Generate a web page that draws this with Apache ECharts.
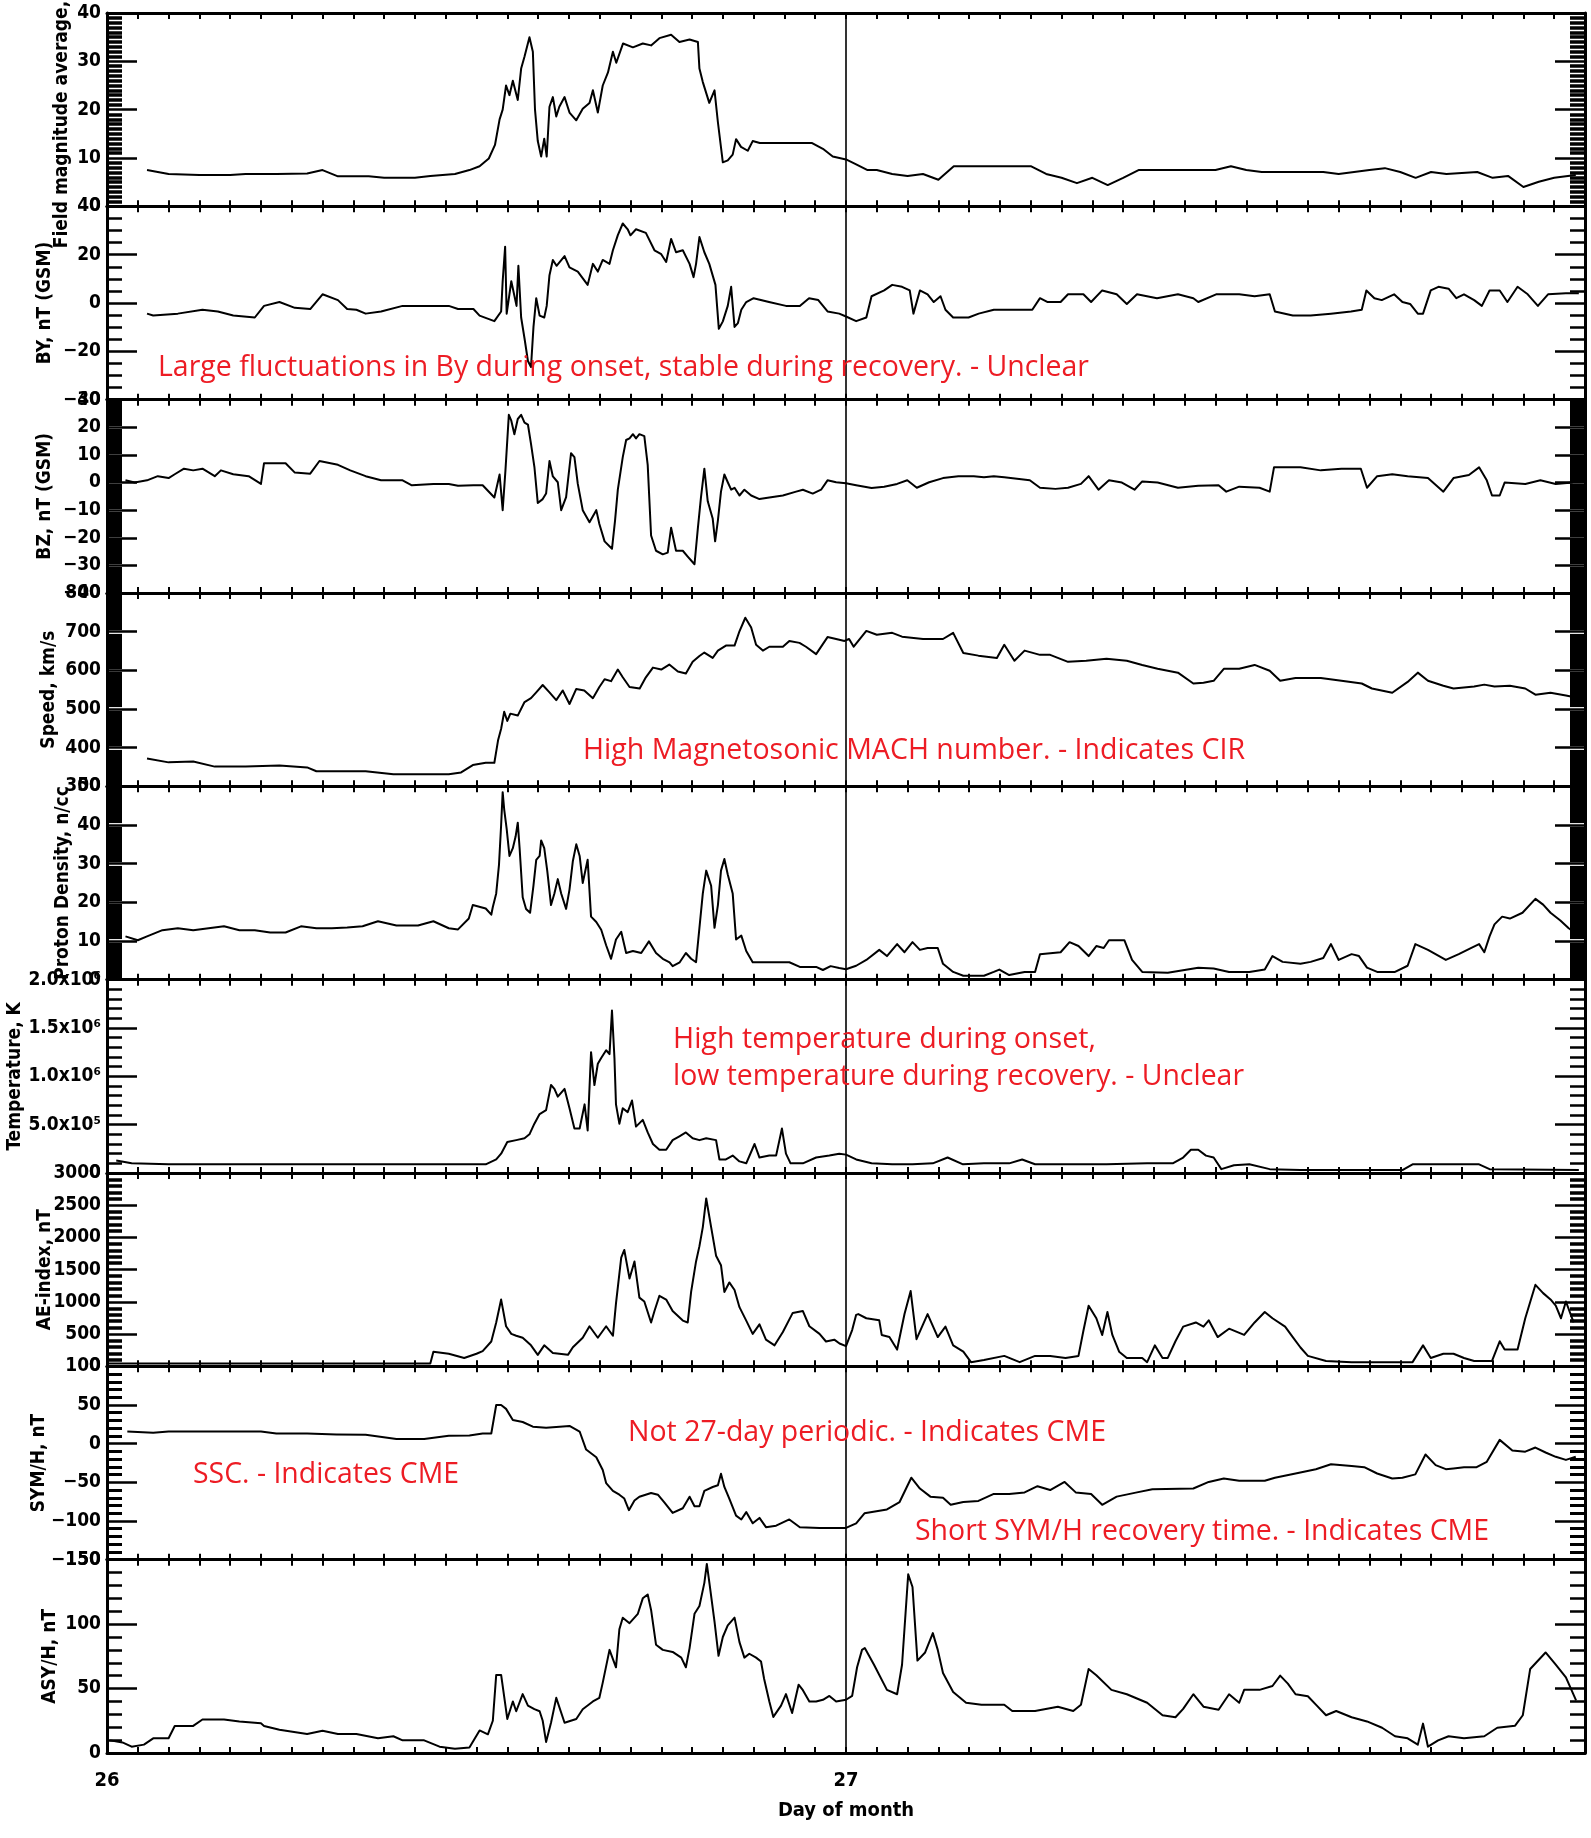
<!DOCTYPE html>
<html>
<head>
<meta charset="utf-8">
<script src="https://cdn.jsdelivr.net/npm/echarts@6/dist/echarts.min.js"></script>
<style>
html,body{margin:0;padding:0;background:#fff;}
#chart{width:1591px;height:1838px;}
</style>
</head>
<body>
<div id="chart"></div>
<script>
// ---- Data: [hour since start of day 26, value] ----
const fieldMagnitude = [[1.3,7.5],[2.0,6.7],[3.0,6.5],[4.0,6.5],[4.5,6.7],[5.5,6.7],[6.5,6.8],[7.0,7.5],[7.5,6.2],[8.5,6.2],[9.0,5.9],[10.0,5.9],[10.5,6.3],[11.3,6.7],[11.77,7.5],[12.1,8.3],[12.4,9.9],[12.6,12.7],[12.75,18],[12.85,20],[12.96,25],[13.07,23],[13.18,26],[13.34,22],[13.45,28.5],[13.56,31],[13.72,35],[13.83,32],[13.9,20],[13.99,13.5],[14.1,10.3],[14.2,14],[14.28,10.3],[14.37,20.6],[14.48,22.6],[14.59,18.6],[14.69,20.6],[14.86,22.6],[15.02,19.4],[15.24,17.8],[15.45,20.2],[15.67,21.4],[15.78,24],[15.94,19.4],[16.1,25],[16.27,27.7],[16.43,32],[16.54,29.7],[16.76,33.7],[17.08,32.9],[17.4,33.7],[17.67,33.3],[17.94,34.8],[18.32,35.5],[18.59,34],[18.92,34.5],[19.19,34],[19.24,28.5],[19.35,25.7],[19.56,21.4],[19.73,24],[19.84,17.4],[20.0,9.1],[20.16,9.5],[20.32,10.7],[20.43,13.9],[20.59,12.3],[20.81,11.5],[20.97,13.5],[21.2,13.1],[22.9,13.1],[23.25,11.9],[23.57,10.3],[24.0,9.7],[24.33,8.7],[24.7,7.5],[25.0,7.5],[25.5,6.7],[26.0,6.3],[26.5,6.7],[27.0,5.5],[27.5,8.3],[29.5,8.3],[30.0,8.3],[30.5,6.7],[31.0,5.9],[31.5,4.8],[32.0,5.9],[32.5,4.4],[33.0,5.9],[33.5,7.5],[36.0,7.5],[36.5,8.3],[37.0,7.5],[37.5,7.1],[39.5,7.1],[40.0,6.7],[40.5,7.1],[41.0,7.5],[41.5,7.9],[42.0,7.1],[42.5,5.9],[43.0,7.1],[43.5,6.7],[44.5,7.1],[45.0,5.9],[45.5,6.3],[46.0,4.0],[46.5,5.1],[47.0,5.9],[47.7,6.5]];

const byGsm = [[1.3,-4.4],[1.5,-5.2],[2.3,-4.4],[3.1,-2.8],[3.6,-3.5],[4.1,-5.2],[4.8,-6],[5.1,-1.2],[5.6,0.4],[6.1,-2],[6.6,-2.5],[7.0,3.6],[7.5,1.2],[7.8,-2.5],[8.1,-2.8],[8.4,-4.4],[8.9,-3.5],[9.6,-1.2],[11.1,-1.2],[11.4,-2.5],[11.9,-2.5],[12.1,-5.2],[12.58,-7.5],[12.8,-3.5],[12.85,9],[12.93,23.3],[12.98,-4.4],[13.13,9],[13.3,-1.2],[13.36,15.4],[13.45,-6],[13.56,-14.7],[13.67,-24],[13.77,-26.5],[13.85,-10],[13.94,2],[14.05,-5.2],[14.2,-6],[14.28,-1.2],[14.37,11.5],[14.48,17.8],[14.6,15.4],[14.86,19.4],[15.02,14.7],[15.29,13],[15.61,7.5],[15.78,16.2],[15.94,13],[16.1,17.8],[16.32,16.2],[16.43,21.8],[16.59,28.1],[16.75,32.9],[16.91,30.5],[17.0,28],[17.18,30.5],[17.5,29],[17.78,21.8],[18.0,20.2],[18.16,17],[18.32,26.5],[18.48,21],[18.7,21.8],[18.92,16.2],[19.05,10.7],[19.13,16.2],[19.24,27.3],[19.4,21],[19.56,16.2],[19.76,7.5],[19.87,-10.7],[20.0,-7.6],[20.16,-1.2],[20.27,6.7],[20.38,-9.9],[20.49,-8.3],[20.6,-2.8],[20.76,0.4],[21.0,2],[21.5,0.4],[22.05,-1.2],[22.5,-1.2],[22.8,2],[23.1,1.2],[23.4,-3.5],[23.78,-4.4],[24.0,-5.6],[24.33,-7.5],[24.66,-6],[24.83,2.8],[25.24,5.2],[25.5,7.5],[25.82,6.7],[26.07,5.2],[26.19,-4.4],[26.4,5.2],[26.65,3.6],[26.85,0.4],[27.07,2.8],[27.23,-2.8],[27.48,-6],[27.98,-6],[28.31,-4.4],[28.8,-2.8],[30.05,-2.8],[30.3,2],[30.55,0.4],[30.97,0.4],[31.21,3.6],[31.71,3.6],[31.96,0.4],[32.32,5.2],[32.79,3.6],[33.12,-0.4],[33.45,3.6],[34.1,2],[34.78,3.6],[35.28,2],[35.44,0.4],[36.02,3.6],[36.77,3.6],[37.27,2.8],[37.76,3.6],[37.93,-3.5],[38.51,-5.2],[39.09,-5.2],[39.75,-4.4],[40.4,-3.5],[40.75,-2.8],[40.9,5.2],[41.16,2],[41.4,1.2],[41.8,3.6],[42.07,0.4],[42.32,-0.4],[42.57,-4.4],[42.74,-4.4],[42.99,5.2],[43.24,6.7],[43.57,5.9],[43.82,2],[44.07,3.6],[44.4,1.2],[44.65,-1.2],[44.9,5.2],[45.23,5.2],[45.48,0.4],[45.81,6.7],[46.14,3.6],[46.47,-1.2],[46.8,3.6],[47.38,4],[47.8,4]];

const bzGsm = [[0.6,0.8],[0.9,0],[1.3,0.8],[1.65,2.3],[2.0,1.6],[2.2,3],[2.5,5],[2.8,4.4],[3.1,5],[3.5,2.3],[3.7,4.4],[4.1,3],[4.6,2.3],[5.0,-0.5],[5.1,7],[5.8,7],[6.1,3.6],[6.6,3.2],[6.9,7.8],[7.5,6.4],[7.9,4.4],[8.4,2.3],[8.9,0.8],[9.6,0.8],[9.9,-1],[10.6,-0.5],[11.1,-0.5],[11.4,-1.2],[11.9,-1],[12.2,-1],[12.58,-5.4],[12.75,2.9],[12.85,-10],[12.94,4.4],[13.05,24.5],[13.13,22.4],[13.23,17.5],[13.34,23],[13.45,24.5],[13.56,21.7],[13.67,21],[13.77,14],[13.88,5.7],[13.99,-7.4],[14.15,-6],[14.26,-4],[14.37,7.8],[14.48,2.2],[14.64,0.1],[14.75,-10],[14.91,-5.3],[15.07,10.6],[15.18,9.2],[15.29,-0.5],[15.45,-10],[15.67,-14.4],[15.89,-10],[15.99,-15],[16.16,-21.3],[16.4,-24],[16.5,-13.7],[16.59,-2.6],[16.75,9.2],[16.86,15.4],[16.97,16],[17.08,17.5],[17.18,16],[17.29,17.5],[17.45,16.8],[17.56,6.4],[17.67,-19.2],[17.83,-24.7],[18.05,-26],[18.21,-25.4],[18.32,-16.4],[18.48,-24.7],[18.7,-24.7],[18.86,-26.8],[19.08,-29.6],[19.19,-16.4],[19.29,-5.4],[19.4,5],[19.51,-6.8],[19.67,-13],[19.75,-21.3],[19.84,-13.7],[19.94,-3.3],[20.05,2.9],[20.16,0.1],[20.27,-2.6],[20.38,-1.9],[20.54,-4.7],[20.7,-2.6],[20.92,-4.7],[21.19,-6],[21.51,-5.4],[21.95,-4.7],[22.38,-3.3],[22.6,-2.6],[22.92,-4],[23.19,-2.6],[23.4,0.8],[23.68,0.1],[24.0,-0.3],[24.33,-1],[24.83,-2],[25.24,-1.5],[25.66,-0.5],[25.99,0.8],[26.3,-1.9],[26.7,0.1],[27.15,1.6],[27.65,2.3],[28.15,2.3],[28.48,1.9],[28.8,2.3],[29.14,1.9],[29.97,0.8],[30.3,-1.9],[30.8,-2.3],[31.21,-1.9],[31.63,-0.5],[31.88,2.3],[32.2,-2.6],[32.54,0.8],[32.96,0],[33.37,-2.6],[33.62,0.4],[34.12,0],[34.78,-1.9],[35.44,-1.2],[36.1,-1],[36.35,-3.3],[36.77,-1.5],[37.43,-1.9],[37.76,-3.3],[37.9,5.5],[38.76,5.5],[39.42,4.4],[40.09,5],[40.72,5],[40.92,-1.9],[41.25,2.3],[41.74,3],[42.24,2.3],[42.9,1.6],[43.4,-3.3],[43.73,1.6],[44.23,2.7],[44.56,5.5],[44.81,0.8],[44.98,-4.7],[45.23,-4.7],[45.39,0],[46.06,-0.5],[46.55,0.8],[47.05,-0.5],[47.6,0]];

const flowSpeed = [[1.3,372],[2.0,362],[2.8,364],[3.5,351],[4.5,351],[5.6,354],[6.5,349],[6.8,339],[8.4,339],[9.3,331],[11.1,331],[11.5,336],[11.88,355],[12.3,361],[12.58,361],[12.7,419],[12.8,449],[12.9,493],[13.0,469],[13.1,488],[13.34,483],[13.56,518],[13.77,528],[13.94,543],[14.15,562],[14.37,543],[14.59,523],[14.8,548],[15.02,513],[15.24,552],[15.5,548],[15.78,528],[15.99,557],[16.16,577],[16.37,572],[16.59,602],[16.75,582],[16.97,557],[17.3,553],[17.5,582],[17.73,607],[18.0,602],[18.26,615],[18.54,597],[18.8,592],[19.02,622],[19.24,637],[19.4,646],[19.67,632],[19.84,651],[20.1,664],[20.38,664],[20.54,701],[20.73,736],[20.92,711],[21.08,666],[21.3,651],[21.51,661],[21.95,661],[22.16,676],[22.49,671],[22.7,661],[23.03,642],[23.4,686],[23.68,681],[23.95,676],[24.1,681],[24.25,661],[24.66,702],[25.0,692],[25.5,697],[25.82,687],[26.5,681],[27.15,681],[27.48,697],[27.81,645],[28.3,638],[28.9,632],[29.14,666],[29.47,625],[29.8,651],[30.3,640],[30.63,640],[31.21,622],[31.8,625],[32.46,630],[33.12,625],[33.62,614],[34.12,604],[34.78,594],[35.28,566],[35.61,568],[35.94,573],[36.27,604],[36.77,604],[37.27,614],[37.76,599],[38.1,573],[38.6,580],[39.42,580],[40.09,573],[40.75,566],[41.08,553],[41.74,542],[42.24,570],[42.57,594],[42.9,573],[43.4,560],[43.73,553],[44.4,558],[44.73,563],[45.06,558],[45.56,560],[46.06,553],[46.39,537],[46.88,542],[47.38,535],[47.7,530]];

const protonDensity = [[0.6,11.2],[1.0,10.2],[1.3,11.2],[1.8,12.8],[2.3,13.3],[2.8,12.8],[3.3,13.3],[3.8,13.8],[4.3,12.8],[4.8,12.8],[5.3,12.2],[5.8,12.2],[6.3,13.8],[6.8,13.3],[7.3,13.3],[7.8,13.5],[8.3,13.8],[8.8,15.1],[9.4,14],[10.1,14],[10.6,15.1],[11.1,13.3],[11.4,13],[11.75,15.8],[11.88,19.3],[12.3,18.4],[12.48,16.8],[12.53,18.8],[12.64,22.3],[12.73,29.7],[12.8,40],[12.85,48.5],[12.9,44],[12.98,39],[13.07,32],[13.18,34],[13.27,37],[13.34,40.6],[13.4,34],[13.5,21.3],[13.61,18.3],[13.74,17.3],[13.85,24.3],[13.94,31],[14.05,32],[14.1,36],[14.2,34],[14.3,28],[14.42,19.3],[14.53,22.3],[14.64,26],[14.75,22.3],[14.91,18.3],[15.02,23.3],[15.13,30.7],[15.24,35],[15.35,32],[15.45,25],[15.61,31],[15.72,16.3],[15.89,14.9],[16.05,12.9],[16.21,8.9],[16.37,5.4],[16.53,10.4],[16.7,12.4],[16.86,6.9],[17.08,7.4],[17.35,6.9],[17.6,9.9],[17.83,6.9],[18.05,5.4],[18.27,4.5],[18.37,3.5],[18.6,4.5],[18.8,6.9],[18.97,5.4],[19.13,4.5],[19.24,13.4],[19.35,22.3],[19.46,28.2],[19.62,24.3],[19.73,13.4],[19.84,19.3],[19.94,28.2],[20.05,31.2],[20.16,27.2],[20.32,22.3],[20.43,10.4],[20.6,11.4],[20.76,7.4],[20.97,4.5],[22.16,4.5],[22.5,3.3],[23.03,3.3],[23.25,2.5],[23.5,3.5],[23.78,3],[24.0,2.7],[24.33,3.6],[24.66,5.1],[25.08,7.7],[25.33,6.1],[25.66,9.2],[25.9,7.1],[26.16,9.7],[26.4,7.7],[26.65,8.2],[26.98,8.2],[27.15,4.1],[27.48,2],[27.81,1],[28.48,1],[28.8,2],[28.98,2.6],[29.3,1.2],[29.8,2],[30.14,2],[30.3,6.6],[30.97,7.1],[31.26,9.7],[31.55,8.7],[31.88,6.1],[32.13,8.7],[32.37,8.2],[32.54,10.2],[33.04,10.2],[33.29,5.1],[33.62,2],[34.45,1.8],[35.44,3.1],[35.94,2.9],[36.44,2],[37.1,2],[37.6,2.6],[37.85,6.1],[38.18,4.6],[38.76,4.1],[39.09,4.6],[39.5,5.6],[39.75,9.2],[40.0,5.1],[40.42,6.6],[40.66,6.1],[40.92,3.1],[41.25,2],[41.83,2],[42.24,3.6],[42.49,9.2],[42.9,7.7],[43.48,5.1],[43.9,6.6],[44.31,8.2],[44.56,9.2],[44.73,7.1],[44.9,11.2],[45.06,14.3],[45.31,16.3],[45.56,15.8],[45.97,17.3],[46.39,20.9],[46.64,19.4],[46.88,17.3],[47.2,15.3],[47.47,13.3],[47.7,12]];

const temperature = [[0.3,130000],[0.8,100000],[2,90000],[4,90000],[6,90000],[8,90000],[10,90000],[11.8,90000],[12.3,90000],[12.64,140000],[12.8,200000],[13.0,320000],[13.29,340000],[13.56,360000],[13.72,400000],[13.88,510000],[14.05,610000],[14.26,650000],[14.42,910000],[14.53,870000],[14.64,790000],[14.86,870000],[15.02,670000],[15.18,460000],[15.35,460000],[15.51,710000],[15.61,440000],[15.72,1250000],[15.83,910000],[15.94,1130000],[16.05,1190000],[16.21,1270000],[16.32,1230000],[16.4,1680000],[16.48,1190000],[16.53,710000],[16.64,510000],[16.75,670000],[16.91,630000],[17.05,750000],[17.18,480000],[17.4,550000],[17.56,420000],[17.73,300000],[17.94,240000],[18.16,240000],[18.37,340000],[18.59,380000],[18.8,420000],[19.02,360000],[19.24,340000],[19.46,360000],[19.78,340000],[19.89,140000],[20.1,140000],[20.32,180000],[20.54,120000],[20.76,100000],[21.03,300000],[21.19,160000],[21.51,180000],[21.73,180000],[21.92,460000],[22.05,200000],[22.2,100000],[22.6,100000],[23.03,160000],[23.46,180000],[23.78,200000],[24.0,190000],[24.33,140000],[24.83,100000],[25.5,90000],[26.16,90000],[26.82,100000],[27.3,160000],[27.8,90000],[28.48,100000],[29.3,100000],[29.72,140000],[30.14,90000],[31.3,90000],[32.46,90000],[33.78,100000],[34.61,100000],[34.95,160000],[35.2,240000],[35.44,240000],[35.69,180000],[35.94,160000],[36.19,40000],[36.6,80000],[37.1,90000],[37.76,40000],[38.76,30000],[40.42,30000],[42.07,30000],[42.4,90000],[43.73,90000],[44.56,90000],[44.9,40000],[47.8,30000]];

const aeIndex = [[0,45],[10.5,45],[10.6,227],[11.1,195],[11.6,130],[12.0,195],[12.2,237],[12.48,385],[12.64,681],[12.8,1036],[12.96,622],[13.13,503],[13.29,474],[13.5,444],[13.77,326],[13.99,178],[14.2,326],[14.48,207],[14.97,178],[15.13,296],[15.45,444],[15.67,622],[15.94,444],[16.21,622],[16.43,474],[16.53,977],[16.7,1687],[16.8,1806],[16.97,1362],[17.13,1628],[17.29,1066],[17.45,1006],[17.67,681],[17.78,858],[17.94,1095],[18.16,1036],[18.37,858],[18.7,710],[18.86,681],[18.97,1154],[19.13,1628],[19.24,1865],[19.35,2161],[19.46,2605],[19.62,2161],[19.78,1717],[19.94,1569],[20.05,1154],[20.21,1302],[20.38,1184],[20.54,918],[20.76,710],[20.97,503],[21.19,651],[21.4,414],[21.68,326],[21.95,533],[22.27,829],[22.6,858],[22.81,622],[23.14,503],[23.35,385],[23.62,414],[23.79,355],[24.0,314],[24.2,562],[24.33,799],[24.4,811],[24.66,746],[25.08,714],[25.16,487],[25.41,454],[25.66,260],[25.9,811],[26.1,1168],[26.29,422],[26.65,811],[26.98,454],[27.23,616],[27.48,325],[27.81,227],[28.06,65],[28.48,97],[29.14,162],[29.64,65],[30.14,162],[30.63,162],[31.13,130],[31.55,162],[31.71,552],[31.88,941],[32.13,746],[32.32,487],[32.49,844],[32.65,487],[32.87,227],[33.12,130],[33.62,130],[33.78,65],[34.03,325],[34.28,130],[34.45,130],[34.7,389],[34.95,616],[35.36,681],[35.61,616],[35.78,714],[36.07,454],[36.44,584],[36.93,487],[37.27,681],[37.6,844],[37.85,746],[38.26,616],[38.51,454],[38.76,292],[39.0,162],[39.59,84],[40.42,65],[41.24,65],[42.4,65],[42.74,325],[42.99,130],[43.4,195],[43.73,195],[44.07,130],[44.4,84],[44.98,84],[45.23,389],[45.39,260],[45.81,260],[46.06,746],[46.39,1265],[46.64,1136],[46.88,1038],[47.05,941],[47.22,746],[47.38,1006],[47.63,681]];

const symH = [[0.66,15.8],[1.5,14],[2.0,15.8],[5.0,15.8],[5.5,13],[6.5,13],[7.45,12],[8.4,11.4],[9.4,6],[10.3,6],[11.1,10.3],[11.77,10.7],[12.2,13.2],[12.48,13.2],[12.64,50],[12.8,50],[12.96,45],[13.18,30.6],[13.5,28],[13.83,22],[14.26,20.6],[14.7,22],[15.02,23],[15.35,15.7],[15.56,-7.6],[15.89,-17.5],[16.1,-34],[16.21,-51],[16.43,-61],[16.64,-66],[16.8,-71],[16.95,-86],[17.13,-73.6],[17.29,-68.6],[17.67,-63.7],[17.89,-66],[18.1,-76],[18.37,-89.5],[18.7,-83.5],[18.92,-68.6],[19.08,-81],[19.24,-81],[19.4,-61],[19.67,-56],[19.84,-53.8],[19.94,-39],[20.05,-56],[20.21,-71],[20.43,-93],[20.6,-98],[20.76,-88.5],[20.97,-103],[21.19,-96],[21.4,-108],[21.73,-106],[22.16,-98],[22.5,-108],[23.14,-109],[24.0,-109],[24.33,-103],[24.6,-90],[25.33,-85],[25.74,-75.5],[26.12,-44],[26.4,-58],[26.74,-68.5],[27.15,-70],[27.4,-79],[27.81,-75.5],[28.3,-74],[28.8,-65],[29.3,-65],[29.8,-63],[30.22,-55],[30.63,-60],[31.1,-49.5],[31.46,-63],[31.96,-65],[32.32,-79],[32.79,-68.5],[33.45,-63],[33.95,-59],[35.28,-58],[35.78,-49.5],[36.27,-45],[36.77,-48],[37.6,-48],[37.93,-44],[38.6,-38.6],[39.26,-33],[39.75,-26.6],[40.42,-29],[40.83,-30.4],[41.25,-38.6],[41.74,-45],[42.07,-44],[42.49,-39.7],[42.82,-14],[43.15,-27.7],[43.48,-33],[43.73,-32],[44.07,-30.4],[44.48,-30.4],[44.81,-23.4],[45.23,4.9],[45.64,-8.7],[46.06,-10.3],[46.39,-5],[46.72,-11.4],[47.05,-17],[47.38,-21],[47.7,-17]];

const asyH = [[0.1,9.8],[0.5,8.2],[0.8,4.9],[1.2,6.5],[1.5,11.4],[2.0,11.4],[2.2,21],[2.8,21],[3.1,26],[3.8,26],[4.3,24.5],[5.0,23],[5.1,21],[5.6,18],[6.5,14.7],[7.0,17.3],[7.5,14.7],[8.1,14.7],[8.8,11.4],[9.3,13],[9.6,9.8],[10.3,9.8],[10.8,4.9],[11.3,3.3],[11.77,4.2],[12.1,17.5],[12.37,14.5],[12.53,25],[12.64,60.6],[12.8,60.6],[13.0,26.4],[13.18,40],[13.29,32.4],[13.5,45.7],[13.67,36.8],[13.88,34],[14.05,32.4],[14.15,25],[14.26,8.6],[14.42,23.5],[14.59,42.8],[14.86,23.5],[15.24,26.4],[15.45,34],[15.78,40],[15.99,42.8],[16.1,54.6],[16.32,80],[16.53,66.5],[16.64,96],[16.75,105],[16.97,100.7],[17.24,108],[17.4,120],[17.56,123],[17.67,111],[17.83,84],[18.05,80],[18.37,78.4],[18.65,74],[18.8,66.5],[18.92,81.4],[19.08,108],[19.24,114],[19.4,132],[19.48,146.7],[19.58,129],[19.73,102],[19.86,75.4],[20.0,90],[20.16,99],[20.38,105],[20.54,86],[20.7,74],[20.86,77],[21.08,74],[21.24,71],[21.34,57.6],[21.51,40],[21.64,28],[21.89,36.8],[22.05,45.7],[22.25,31],[22.46,53],[22.6,48.7],[22.81,40],[23.03,40],[23.25,41.3],[23.46,44.3],[23.68,40],[24.0,41.3],[24.2,44.3],[24.36,66.5],[24.52,80],[24.61,81.5],[24.91,68.5],[25.33,49],[25.66,45.6],[25.82,68.5],[26.02,138.6],[26.16,128.8],[26.32,71.7],[26.57,78],[26.82,93],[26.98,80],[27.15,62],[27.48,47.3],[27.9,39],[28.4,37.5],[29.14,37.5],[29.4,32.6],[30.14,32.6],[30.88,35.9],[31.38,32.6],[31.63,37.5],[31.88,65.2],[32.13,60.3],[32.62,49],[33.12,45.6],[33.78,39],[34.28,29.3],[34.7,27.7],[34.95,34.2],[35.28,45.6],[35.61,35.9],[36.1,33.6],[36.44,45.6],[36.77,39],[36.93,49],[37.43,49],[37.85,52],[38.1,60],[38.35,53.8],[38.6,45.6],[39.0,44],[39.26,37.5],[39.59,29.3],[39.92,32.6],[40.42,27.7],[40.92,24.5],[41.41,19.6],[41.83,13],[42.24,11.4],[42.57,6.5],[42.74,22.8],[42.9,4.9],[43.23,9.8],[43.57,13],[44.07,11.4],[44.73,13],[45.15,19.6],[45.73,21.2],[45.98,29.3],[46.22,65.2],[46.72,78],[47.05,68.5],[47.38,58.7],[47.71,40.8]];

const dayLabels = {0: '26', 24: '27'};
const markerHour = 24;

// ---- Panel definitions ----
const panels = [
  {name: 'Field magnitude average, nT', data: fieldMagnitude, min: 0, max: 40, interval: 10, minor: 10, minorW: 3.5, gap: 35},
  {name: 'BY, nT (GSM)', data: byGsm, min: -40, max: 40, interval: 20, minor: 4, minorW: 2.5, gap: 52},
  {name: 'BZ, nT (GSM)', data: bzGsm, min: -40, max: 30, interval: 10, minor: 10, minorW: 3, gap: 52},
  {name: 'Speed, km/s', data: flowSpeed, min: 300, max: 800, interval: 100, minor: 10, minorW: 4.2, gap: 48},
  {name: 'Proton Density, n/cc', data: protonDensity, min: 0, max: 50, interval: 10, minor: 10, minorW: 4.2, gap: 34},
  {name: 'Temperature, K', data: temperature, min: 0, max: 2000000, interval: 500000, minor: 5, minorW: 2.5, gap: 82, sci: true},
  {name: 'AE-index, nT', data: aeIndex, min: 0, max: 3000, interval: 500, minor: 5, minorW: 3.5, gap: 52},
  {name: 'SYM/H, nT', data: symH, min: -150, max: 100, interval: 50, minor: 5, minorW: 3, gap: 58},
  {name: 'ASY/H, nT', data: asyH, min: 0, max: 150, interval: 50, minor: 5, minorW: 2.5, gap: 47}
];

const AXIS_FONT = "'Liberation Sans Narrow','DejaVu Sans Condensed','Liberation Sans',sans-serif";
const SUP = {'0':'\u2070','1':'\u00b9','2':'\u00b2','3':'\u00b3','4':'\u2074','5':'\u2075','6':'\u2076','7':'\u2077','8':'\u2078','9':'\u2079'};
function fmtPlain(v) { return v < 0 ? '\u2212' + Math.abs(v) : String(v); }
function fmtSci(v) {
  if (v === 0) return '0';
  const e = Math.floor(Math.log10(v) + 1e-9);
  const m = v / Math.pow(10, e);
  return m.toFixed(1) + 'x10' + String(e).split('').map(c => SUP[c]).join('');
}

const TOP = 13, PH = (1753 - 13) / 9, LEFT = 107, RIGHT = 6;
const grids = [], xAxes = [], yAxes = [], series = [];
const black = '#000';

panels.forEach((p, i) => {
  grids.push({left: LEFT, right: RIGHT, top: TOP + i * PH, height: PH, containLabel: false, outerBoundsMode: 'none'});
  const last = i === panels.length - 1;
  const xBase = {
    gridIndex: i, type: 'value', min: 0, max: 48, interval: 1,
    axisLine: {show: true, onZero: false, lineStyle: {color: black, width: 3}},
    axisTick: {show: true, inside: true, length: 6, lineStyle: {color: black, width: 2}},
    splitLine: {show: false}
  };
  xAxes.push(Object.assign({}, xBase, {
    position: 'bottom',
    name: last ? 'Day of month' : '',
    nameLocation: 'middle', nameGap: 48, nameMoveOverlap: false,
    nameTextStyle: {fontFamily: AXIS_FONT, fontWeight: 'bold', fontSize: 20, color: black},
    axisLabel: {
      show: last, margin: 18, color: black, fontFamily: AXIS_FONT, fontWeight: 'bold', fontSize: 20,
      showMinLabel: true, showMaxLabel: false,
      formatter: v => (dayLabels[v] !== undefined ? dayLabels[v] : '')
    }
  }));
  xAxes.push(Object.assign({}, xBase, {position: 'top', axisLabel: {show: false}}));

  const yBase = {
    gridIndex: i, type: 'value', min: p.min, max: p.max, interval: p.interval,
    axisLine: {show: true, onZero: false, lineStyle: {color: black, width: 3}},
    axisTick: {show: true, inside: true, length: 30, lineStyle: {color: black, width: 2.5}},
    minorTick: {show: true, splitNumber: p.minor, length: 15, lineStyle: {color: black, width: p.minorW}},
    splitLine: {show: false}, minorSplitLine: {show: false}
  };
  yAxes.push(Object.assign({}, yBase, {
    position: 'left',
    name: p.name, nameLocation: 'middle', nameRotate: 90, nameGap: p.gap, nameMoveOverlap: false,
    nameTextStyle: {fontFamily: AXIS_FONT, fontWeight: 'bold', fontSize: 19, color: black},
    axisLabel: {
      show: true, margin: 6, color: black, fontFamily: AXIS_FONT, fontWeight: 'bold', fontSize: 19,
      showMinLabel: true, showMaxLabel: true, hideOverlap: false,
      formatter: p.sci ? fmtSci : fmtPlain
    }
  }));
  yAxes.push(Object.assign({}, yBase, {position: 'right', axisLabel: {show: false}}));

  series.push({
    type: 'line', xAxisIndex: 2 * i, yAxisIndex: 2 * i, data: p.data,
    showSymbol: false, symbol: 'none', animation: false, clip: true, silent: true,
    lineStyle: {color: black, width: 2, join: 'round'},
    markLine: {
      silent: true, symbol: 'none', animation: false,
      label: {show: false},
      lineStyle: {color: black, width: 1.6, type: 'solid'},
      data: [{xAxis: markerHour}]
    }
  });
});

// ---- Red annotations ----
const notes = [
  {text: 'Large fluctuations in By during onset, stable during recovery. - Unclear', left: 158, right: 1089, base: 377},
  {text: 'High Magnetosonic MACH number. - Indicates CIR', left: 583, right: 1245, base: 760},
  {text: 'High temperature during onset,', left: 673, right: 1096, base: 1049},
  {text: 'low temperature during recovery. - Unclear', left: 673, right: 1244, base: 1086},
  {text: 'Not 27-day periodic. - Indicates CME', left: 628, right: 1106, base: 1442},
  {text: 'SSC. - Indicates CME', left: 193, right: 459, base: 1484},
  {text: 'Short SYM/H recovery time. - Indicates CME', left: 915, right: 1489, base: 1541}
];
const NOTE_FONT_SIZE = 29;
const NOTE_FAMILY = "'Open Sans','Noto Sans',sans-serif";
const mctx = document.createElement('canvas').getContext('2d');
mctx.font = NOTE_FONT_SIZE + 'px ' + NOTE_FAMILY;
const graphics = notes.map(n => {
  const w = mctx.measureText(n.text).width || 1;
  return {
    type: 'text', x: n.left, y: n.base - 9, z: 100, silent: true,
    scaleX: (n.right - n.left) / w, scaleY: 1,
    style: {
      text: n.text, x: 0, y: 0, fill: '#ED1C24',
      font: NOTE_FONT_SIZE + 'px ' + NOTE_FAMILY,
      align: 'left', verticalAlign: 'middle'
    }
  };
});

const chart = echarts.init(document.getElementById('chart'), null, {renderer: 'canvas', width: 1591, height: 1838});
chart.setOption({
  animation: false,
  backgroundColor: '#fff',
  grid: grids, xAxis: xAxes, yAxis: yAxes, series: series,
  graphic: graphics
});
</script>
</body>
</html>
